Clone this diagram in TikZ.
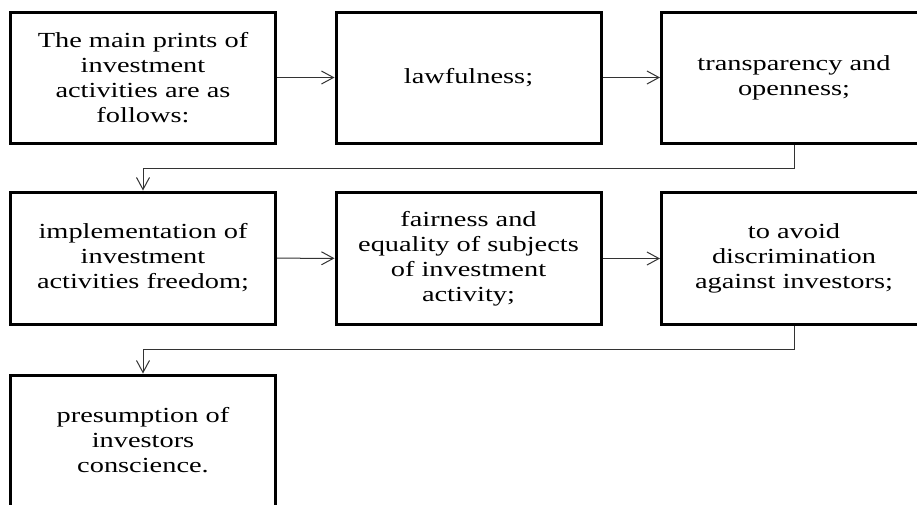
\documentclass[tikz,border=0pt]{standalone}
\usepackage{fontspec}
\setmainfont{Liberation Serif}[FakeStretch=1.32]
\usetikzlibrary{arrows.meta}
\begin{document}
\begin{tikzpicture}[x=1pt,y=-1pt,
  box/.style={draw=black, line width=3pt, rectangle, minimum width=265pt,
    minimum height=131pt, inner sep=0pt, align=center,
    font=\fontsize{21.5}{25}\selectfont},
  conn/.style={draw=black!80, line width=1pt,
    -{Straight Barb[length=12pt,width=13pt,line width=1pt]}},
  link/.style={draw=black!80, line width=1pt}]
  \useasboundingbox (0,0) rectangle (917,504);
  \fill[white] (0,0) rectangle (917,504);
  \clip (0,0) rectangle (917,504);

  % first row
  \node[box] (b1) at (143,77.5) {The main prints of\\investment\\activities are as\\follows:};
  \node[box] (b2) at (468.5,77.5) {lawfulness;};
  \node[box] (b3) at (794,77.5) {transparency and\\openness;};

  % second row
  \node[box, minimum height=132pt] (b4) at (143,258) {implementation of\\investment\\activities freedom;};
  \node[box, minimum height=132pt] (b5) at (468.5,258.5) {fairness and\\equality of subjects\\of investment\\activity;};
  \node[box, minimum height=132pt] (b6) at (794,258.5) {to avoid\\discrimination\\against investors;};

  % third row
  \node[box] (b7) at (143,440.5) {presumption of\\investors\\conscience.};

  % horizontal links
  \draw[conn] (b1) -- (b2);
  \draw[conn] (b2) -- (b3);
  \draw[conn] (b4) -- (b5);
  \draw[conn] (b5) -- (b6);

  % row changes
  \draw[conn] (b3.south) -- ++(0,23.5) -| (b4.north);
  \draw[conn] (b6.south) -- ++(0,23.5) -| (b7.north);
\end{tikzpicture}
\end{document}
